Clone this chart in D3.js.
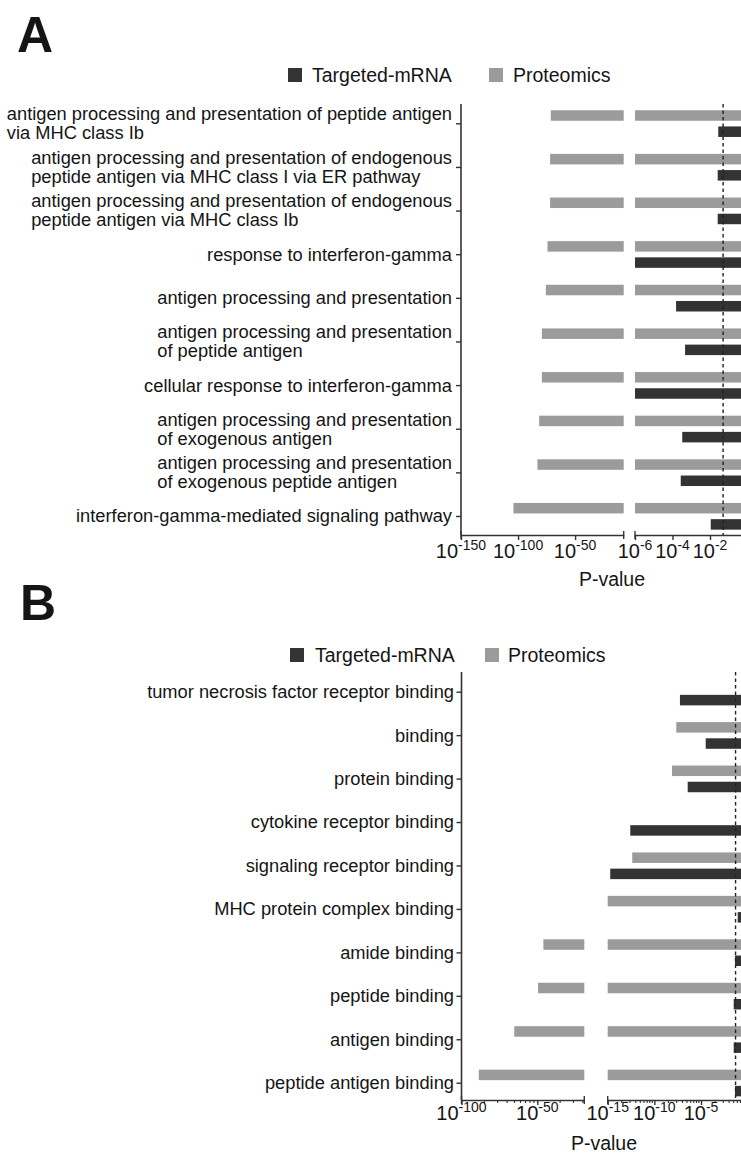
<!DOCTYPE html>
<html><head><meta charset="utf-8">
<script src="https://cdn.jsdelivr.net/npm/d3@7"></script>
<style>
body{margin:0;background:#fff}
svg{display:block}
text{font-family:Arial,"Liberation Sans",sans-serif;fill:#151515}
</style>
</head><body>
<svg id="chart" width="741" height="1154"></svg>
<script>
// ---------------- data (log10 of P-value) ----------------
const seriesNames = ["Targeted-mRNA", "Proteomics"];
const seriesColors = ["#333333", "#9b9b9b"];

const categoriesA = [
  "antigen processing and presentation of peptide antigen\nvia MHC class Ib",
  "antigen processing and presentation of endogenous\npeptide antigen via MHC class I via ER pathway",
  "antigen processing and presentation of endogenous\npeptide antigen via MHC class Ib",
  "response to interferon-gamma",
  "antigen processing and presentation",
  "antigen processing and presentation\nof peptide antigen",
  "cellular response to interferon-gamma",
  "antigen processing and presentation\nof exogenous antigen",
  "antigen processing and presentation\nof exogenous peptide antigen",
  "interferon-gamma-mediated signaling pathway"
];
const mrnaA = [-1.56, -1.59, -1.59, -7, -3.81, -3.33, -7, -3.48, -3.56, -1.96];
const protA = [-71.3, -71.9, -71.9, -74.2, -75.6, -79.1, -79.1, -81.5, -83.0, -104.0];

const categoriesB = [
  "tumor necrosis factor receptor binding",
  "binding",
  "protein binding",
  "cytokine receptor binding",
  "signaling receptor binding",
  "MHC protein complex binding",
  "amide binding",
  "peptide binding",
  "antigen binding",
  "peptide antigen binding"
];
const mrnaB = [-7.26, -4.5, -6.43, -12.58, -14.73, -1.07, -1.36, -1.5, -1.5, -1.36];
const protB = [null, -7.65, -8.11, null, -12.37, -17, -46, -49.5, -65.2, -88.6];

const ticksA1 = [-150, -100, -50];
const ticksA2 = [-6, -4, -2];
const ticksB1 = [-100, -50];
const ticksB2 = [-15, -10, -5];
const threshold = Math.log10(0.05);
const xTitle = "P-value";

// ---------------- drawing ----------------
const svg = d3.select("#chart");
svg.append("rect").attr("width", 741).attr("height", 1154).attr("fill", "#fff");

const LABEL_FS = 18.3, LINE_H = 19, LEGEND_FS = 19.5, TICK_FS = 20, SUP_FS = 14;
const BAR_H = 10.5;

function drawPanel(cfg) {
  const g = svg.append("g");
  g.append("text").attr("x", cfg.letterX).attr("y", cfg.letterY)
    .attr("font-size", 50).attr("font-weight", "bold").attr("fill", "#000").text(cfg.letter);

  const lg = g.append("g");
  [[cfg.legend.sq1, cfg.legend.tx1, 0], [cfg.legend.sq2, cfg.legend.tx2, 1]].forEach(([sx, tx, i]) => {
    lg.append("rect").attr("x", sx).attr("y", cfg.legendY - 7).attr("width", 14).attr("height", 14)
      .attr("fill", seriesColors[i]);
    lg.append("text").attr("x", tx).attr("y", cfg.legendY + 7).attr("font-size", LEGEND_FS).text(seriesNames[i]);
  });

  const y = d3.scalePoint().domain(cfg.categories).range([cfg.tickTop, cfg.tickBottom]);
  const x1 = d3.scaleLinear().domain(cfg.seg1.domain).range(cfg.seg1.range);
  const x2 = d3.scaleLinear().domain(cfg.seg2.domain).range(cfg.seg2.range);

  const series = [cfg.mrna, cfg.prot];
  const offsets = [8.4, -7.8];
  series.forEach((vals, si) => {
    vals.forEach((v, i) => {
      if (v === null) return;
      const cy = y(cfg.categories[i]) + offsets[si];
      if (v < cfg.seg1.domain[1]) {
        const a = x1(Math.max(v, cfg.seg1.domain[0])), b = x1(cfg.seg1.domain[1]);
        g.append("rect").attr("x", a).attr("y", cy - BAR_H / 2).attr("width", b - a).attr("height", BAR_H)
          .attr("fill", seriesColors[si]);
      }
      const a2 = x2(Math.max(v, cfg.seg2.domain[0])), b2 = x2(0);
      g.append("rect").attr("x", a2).attr("y", cy - BAR_H / 2).attr("width", b2 - a2).attr("height", BAR_H)
        .attr("fill", seriesColors[si]);
    });
  });

  g.append("line").attr("x1", x2(threshold)).attr("x2", x2(threshold))
    .attr("y1", cfg.top).attr("y2", cfg.bottom)
    .attr("stroke", "#222").attr("stroke-width", 1.4).attr("stroke-dasharray", "3.5,3");

  const ya = g.append("g").attr("transform", `translate(${cfg.axisX},0)`)
    .call(d3.axisLeft(y).tickSize(5).tickFormat(""));
  ya.select(".domain").remove();
  ya.selectAll(".tick line").attr("stroke", "#333").attr("stroke-width", 1.4);
  g.append("line").attr("x1", cfg.axisX).attr("x2", cfg.axisX).attr("y1", cfg.top).attr("y2", cfg.bottom)
    .attr("stroke", "#333").attr("stroke-width", 1.6);

  cfg.categories.forEach(c => {
    const lines = c.split("\n");
    const cy = y(c);
    const tg = g.append("g");
    const texts = lines.map((ln, k) => tg.append("text")
      .attr("font-size", LABEL_FS)
      .attr("y", cy + (k - (lines.length - 1) / 2) * LINE_H + LABEL_FS * 0.35)
      .text(ln));
    const w = d3.max(texts, t => t.node().getComputedTextLength());
    texts.forEach(t => t.attr("x", cfg.labelEnd - w));
  });

  [[x1, cfg.seg1], [x2, cfg.seg2]].forEach(([sc, seg]) => {
    const ax = g.append("g").attr("transform", `translate(0,${cfg.bottom})`)
      .call(d3.axisBottom(sc).tickValues(seg.ticks).tickSize(5).tickSizeOuter(0).tickFormat(""));
    ax.select(".domain").attr("stroke", "#333").attr("stroke-width", 1.6);
    ax.selectAll(".tick line").attr("stroke", "#333").attr("stroke-width", 1.4);
    seg.range.forEach(r => {
      g.append("line").attr("x1", r).attr("x2", r).attr("y1", cfg.bottom - 4).attr("y2", cfg.bottom + 4)
        .attr("stroke", "#333").attr("stroke-width", 1.4);
    });
    if (seg.minorStep) {
      const minors = [];
      seg.ticks.forEach(m => {
        for (let k = 2; k <= 9; k++) {
          const v = m + seg.minorStep * Math.log10(k);
          if (v > seg.domain[0] && v < seg.domain[1]) minors.push(v);
        }
      });
      g.selectAll(null).data(minors).enter().append("line")
        .attr("x1", d => sc(d)).attr("x2", d => sc(d))
        .attr("y1", cfg.bottom).attr("y2", cfg.bottom + 3)
        .attr("stroke", "#333").attr("stroke-width", 1.1);
    }
    seg.ticks.forEach(t => {
      const tx = g.append("text").attr("x", sc(t)).attr("y", cfg.tickLabelY)
        .attr("text-anchor", "middle").attr("font-size", TICK_FS);
      tx.append("tspan").text("10");
      tx.append("tspan").attr("font-size", SUP_FS).attr("dy", -8).text(String(t));
    });
  });

  g.append("text").attr("x", cfg.titleX).attr("y", cfg.titleY).attr("text-anchor", "middle")
    .attr("font-size", 19.5).text(xTitle);
}

drawPanel({
  letter: "A", letterX: 17, letterY: 52,
  legendY: 75, legend: {sq1: 288, tx1: 312, sq2: 489, tx2: 513},
  categories: categoriesA, mrna: mrnaA, prot: protA,
  axisX: 461, top: 104, bottom: 535, tickTop: 123.3, tickBottom: 516,
  seg1: {domain: [-150, -7.4], range: [461, 623.7], ticks: ticksA1},
  seg2: {domain: [-6, 0], range: [635, 747.5], ticks: ticksA2},
  tickLabelY: 558, titleX: 612, titleY: 586, labelEnd: 452
});

drawPanel({
  letter: "B", letterX: 20, letterY: 620,
  legendY: 655, legend: {sq1: 290, tx1: 315, sq2: 485, tx2: 508},
  categories: categoriesB, mrna: mrnaB, prot: protB,
  axisX: 461.5, top: 672, bottom: 1100, tickTop: 691.7, tickBottom: 1082.7,
  seg1: {domain: [-100, -19], range: [461.5, 584.3], ticks: ticksB1, minorStep: 50},
  seg2: {domain: [-15, 0], range: [607.7, 747.7], ticks: ticksB2, minorStep: 5},
  tickLabelY: 1120, titleX: 604, titleY: 1150, labelEnd: 454
});
</script>
</body></html>
